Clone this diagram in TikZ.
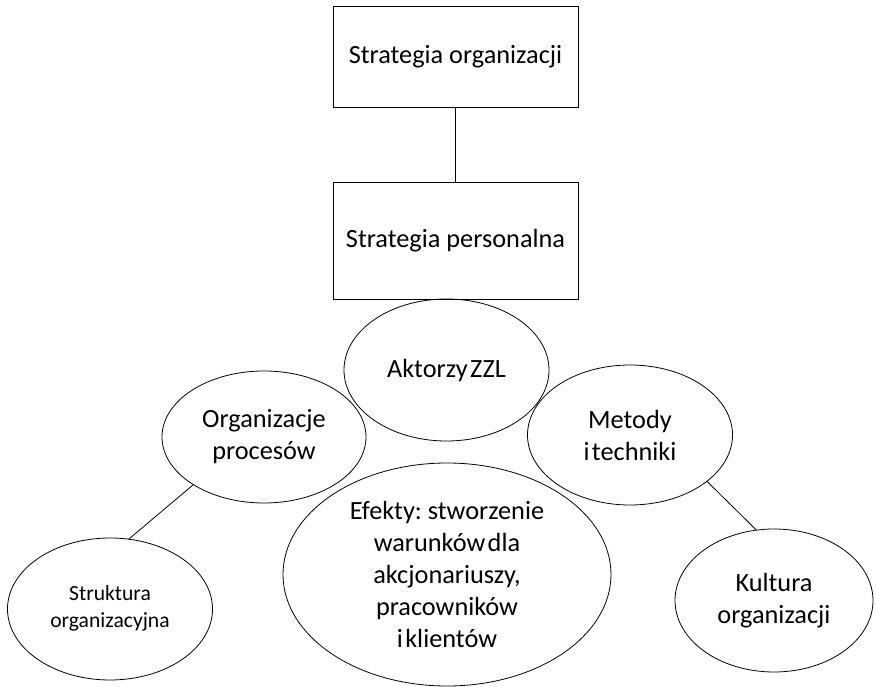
\documentclass[tikz,border=0pt]{standalone}
\usepackage{fontspec}
\setmainfont{Carlito}
\usetikzlibrary{shapes.geometric}
\newcommand{\tsp}{\hspace{0.09em}}
\begin{document}
\begin{tikzpicture}[x=1pt,y=-1pt,
  every node/.style={inner sep=0pt, outer sep=0pt, align=center},
  bigtext/.style={font=\fontsize{26.3}{32}\selectfont\frenchspacing},
  smalltext/.style={font=\fontsize{21.6}{27}\selectfont\frenchspacing},
  boxnode/.style={draw, line width=0.8pt, rectangle, minimum width=245pt, bigtext},
  ell/.style={draw, line width=0.8pt, ellipse},
  conn/.style={line width=0.8pt}]
\useasboundingbox (0,0) rectangle (876,687);
\node[boxnode, minimum height=101pt] (so) at (455.5,56.5) {Strategia organizacji};
\node[boxnode, minimum height=117pt] (sp) at (455.5,240.5) {Strategia personalna};
\node[ell, bigtext, minimum width=205pt, minimum height=142pt] (ak) at (446.5,370) {Aktorzy\tsp ZZL};
\node[ell, bigtext, minimum width=204pt, minimum height=132pt] (op) at (264,437) {Organizacje\\procesów};
\node[ell, bigtext, minimum width=205pt, minimum height=140pt] (mt) at (630,435) {Metody\\i\tsp techniki};
\node[ell, bigtext, minimum width=328pt, minimum height=223pt] (ef) at (447,574.5) {Efekty: stworzenie\\warunków\tsp dla\\akcjonariuszy,\\pracowników\\i\tsp klientów};
\node[ell, smalltext, minimum width=205pt, minimum height=142pt] (st) at (110,609) {\raisebox{-3pt}{\begin{tabular}{@{}c@{}}Struktura\\organizacyjna\end{tabular}}};
\node[ell, bigtext, minimum width=198pt, minimum height=143pt] (ku) at (774,600.5) {Kultura\\organizacji};
\draw[conn] (so) -- (sp);
\draw[conn] (op.214) -- (st.75);
\draw[conn] (mt.329) -- (ku.104);
\end{tikzpicture}
\end{document}
